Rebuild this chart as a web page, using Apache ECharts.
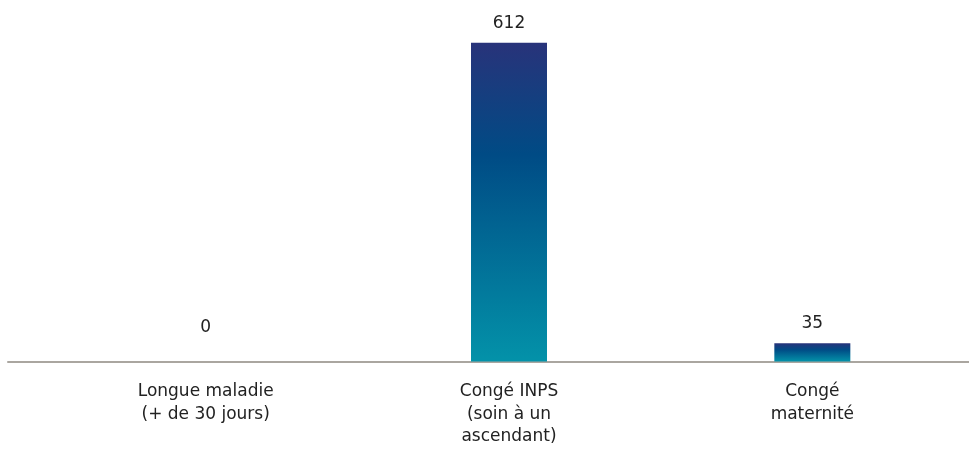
<!DOCTYPE html>
<html>
<head>
<meta charset="utf-8">
<script src="https://cdn.jsdelivr.net/npm/echarts@6/dist/echarts.min.js"></script>
<style>
  html, body { margin: 0; padding: 0; background: #ffffff; }
  #chart { width: 969px; height: 455px; }
</style>
</head>
<body>
<div id="chart"></div>
<script>
// Leave types and the number of days for each
const categories = ['Longue maladie\n(+ de 30 jours)', 'Congé INPS\n(soin à un\nascendant)', 'Congé\nmaternité'];
const values = [0, 612, 35];

const FONT = 'DejaVu Sans';
const TEXT = '#222222';

const barGradient = new echarts.graphic.LinearGradient(0, 0, 0, 1, [
  { offset: 0, color: '#28337a' },
  { offset: 0.35, color: '#004b85' },
  { offset: 1, color: '#0392a9' }
]);

const chart = echarts.init(document.getElementById('chart'), null, { renderer: 'canvas' });

chart.setOption({
  animation: false,
  backgroundColor: '#ffffff',
  grid: [
    { left: 54, right: 5, top: 23, bottom: 93.5 },
    // full-width baseline under the bars
    { left: 8, right: 0, top: 23, bottom: 93.5 }
  ],
  xAxis: [
    {
      type: 'category',
      gridIndex: 0,
      data: categories,
      axisLine: { show: false },
      axisTick: { show: false },
      axisLabel: {
        color: TEXT,
        fontFamily: FONT,
        fontSize: 17,
        lineHeight: 22.5,
        margin: 19,
        interval: 0
      }
    },
    {
      type: 'value',
      gridIndex: 1,
      min: 0,
      max: 1,
      axisLine: { show: true, onZero: false, lineStyle: { color: '#aaa6a0', width: 2 } },
      axisTick: { show: false },
      axisLabel: { show: false },
      splitLine: { show: false }
    }
  ],
  yAxis: [
    { type: 'value', gridIndex: 0, min: 0, max: 650, show: false, splitLine: { show: false } },
    { type: 'value', gridIndex: 1, min: 0, max: 1, show: false, splitLine: { show: false } }
  ],
  series: [
    {
      type: 'bar',
      xAxisIndex: 0,
      yAxisIndex: 0,
      barWidth: 76,
      data: values.map((v, i) => ({
        value: v,
        label: i === 0 && v === 0 ? { distance: 25 } : undefined
      })),
      itemStyle: { color: barGradient },
      label: {
        show: true,
        position: 'top',
        distance: 11,
        color: TEXT,
        fontFamily: FONT,
        fontSize: 17
      }
    }
  ]
});
</script>
</body>
</html>
